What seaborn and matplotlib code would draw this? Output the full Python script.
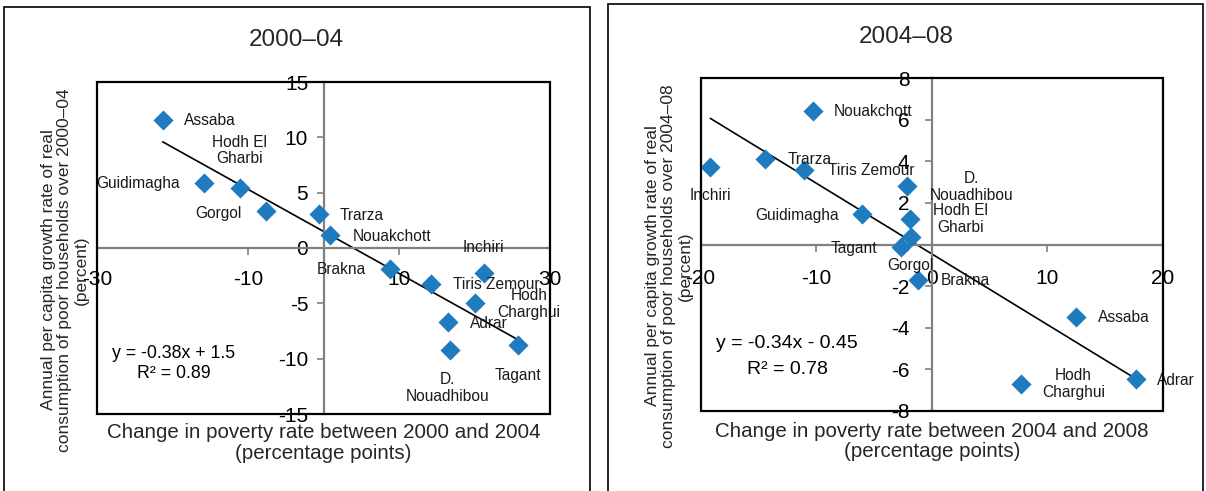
import numpy as np
import pandas as pd
import matplotlib
matplotlib.use("Agg")
import matplotlib.pyplot as plt
from matplotlib.patches import Rectangle
import seaborn as sns

# ---------------- data ----------------
# Panel 2000-04
regions_0004 = ["Assaba", "Hodh El\nGharbi", "Guidimagha", "Gorgol", "Trarza", "Nouakchott",
                "Brakna", "Inchiri", "Tiris Zemour", "Hodh\nCharghui", "Adrar",
                "D.\nNouadhibou", "Tagant"]
pov_change_0004 = [-21.3, -11.1, -15.85, -7.67, -0.6, 0.83, 8.77, 21.3, 14.2, 20.05, 16.5, 16.7, 25.7]
growth_0004 = [11.6, 5.46, 5.88, 3.33, 3.11, 1.16, -1.88, -2.3, -3.27, -4.95, -6.67, -9.2, -8.77]
slope_0004, intercept_0004, r2_0004 = -0.38, 1.5, 0.89

# Panel 2004-08
regions_0408 = ["Nouakchott", "Inchiri", "Trarza", "Tiris Zemour", "D.\nNouadhibou",
                "Hodh El\nGharbi", "Guidimagha", "Gorgol", "Tagant", "Brakna", "Assaba",
                "Hodh\nCharghui", "Adrar"]
pov_change_0408 = [-10.3, -19.15, -14.46, -11.05, -2.1, -1.86, -6.07, -1.8, -2.65, -1.15, 12.46, 7.68, 17.7]
growth_0408 = [6.43, 3.74, 4.11, 3.58, 2.83, 1.23, 1.46, 0.37, -0.1, -1.7, -3.46, -6.69, -6.45]
slope_0408, intercept_0408, r2_0408 = -0.34, -0.45, 0.78

xticks_0004 = [-30, -10, 10, 30]
yticks_0004 = [-15, -10, -5, 0, 5, 10, 15]
xticks_0408 = [-20, -10, 0, 10, 20]
yticks_0408 = [-8, -6, -4, -2, 0, 2, 4, 6, 8]

titles = ["2000\u201304", "2004\u201308"]
xlabels = ["Change in poverty rate between 2000 and 2004\n(percentage points)",
           "Change in poverty rate between 2004 and 2008\n(percentage points)"]
ylabels = ["Annual per capita growth rate of real\nconsumption of poor households over 2000\u201304\n(percent)",
           "Annual per capita growth rate of real\nconsumption of poor households over 2004\u201308\n(percent)"]

# label offsets (pixels) – layout only
offsets_0004 = [(47, -1), (0, 37), (-66, -1), (-47, -2), (43, -2), (62, -1), (-48, -1),
                (-1, 26), (66, 0), (54, -1), (41, -2), (-2, -38), (0, -30)]
offsets_0408 = [(60, -1), (0, -29), (45, -1), (67, -1), (64, -1), (50, 0), (-65, -1),
                (-1, -29), (-47, -2), (47, -1), (48, -1), (53, 0), (39, -2)]

# ---------------- style ----------------
sns.set_theme(style="white")
plt.rcParams["font.family"] = ["Liberation Sans", "DejaVu Sans"]
plt.rcParams["axes.unicode_minus"] = False

BLUE = "#1f7bbf"
GREY = "#808080"
W, H = 1206, 491

fig = plt.figure(figsize=(W / 100, H / 100), dpi=100)

# outer frames
fig.add_artist(Rectangle((4 / W, -0.05), 586 / W, 1 - 7 / H + 0.05, transform=fig.transFigure,
                         fill=False, ec="black", lw=1.2))
fig.add_artist(Rectangle((608 / W, -0.05), 595 / W, 1 - 4 / H + 0.05, transform=fig.transFigure,
                         fill=False, ec="black", lw=1.2))


def px_box(l, r, t, b):
    return [l / W, 1 - b / H, (r - l) / W, (b - t) / H]


panels = [
    dict(box=px_box(97, 550, 82, 414), x=pov_change_0004, y=growth_0004, names=regions_0004,
         offs=offsets_0004, slope=slope_0004, icpt=intercept_0004, r2=r2_0004,
         xlim=(-30, 30), ylim=(-15, 15), xticks=xticks_0004, yticks=yticks_0004,
         eq_pos=(-19.8, -9.5), eq_dy=-1.8, eq_size=12.8, xpad=11, ypad=6,
         title_xy=(296, 40), xl_xy=(323.5, 443), yl_xy=(65, 270)),
    dict(box=px_box(700.5, 1163, 78, 411), x=pov_change_0408, y=growth_0408, names=regions_0408,
         offs=offsets_0408, slope=slope_0408, icpt=intercept_0408, r2=r2_0408,
         xlim=(-20, 20), ylim=(-8, 8), xticks=xticks_0408, yticks=yticks_0408,
         eq_pos=(-12.5, -4.74), eq_dy=-1.28, eq_size=14, xpad=13, ypad=11,
         title_xy=(906, 37), xl_xy=(931.7, 441.5), yl_xy=(669, 266)),
]

for i, p in enumerate(panels):
    ax = fig.add_axes(p["box"])
    df = pd.DataFrame({"x": p["x"], "y": p["y"], "name": p["names"]})

    # trend line over data range
    xs = np.array([df["x"].min(), df["x"].max()])
    ys = p["slope"] * xs + p["icpt"]
    sns.lineplot(x=xs, y=ys, color="black", lw=1.2, ax=ax, zorder=2)

    sns.scatterplot(data=df, x="x", y="y", marker="D", s=105, color=BLUE,
                    edgecolor=BLUE, linewidth=0, ax=ax, zorder=3)

    for (_, row), off in zip(df.iterrows(), p["offs"]):
        ax.annotate(row["name"], (row["x"], row["y"]), xytext=off, textcoords="offset pixels",
                    ha="center", va="center", fontsize=11.2, color="#1a1a1a",
                    multialignment="center", linespacing=1.15, zorder=4)

    ax.set_xlim(*p["xlim"])
    ax.set_ylim(*p["ylim"])
    ax.set_xticks(p["xticks"])
    ax.set_yticks(p["yticks"])
    ax.set_xlabel("")
    ax.set_ylabel("")

    for s in ["left", "bottom"]:
        ax.spines[s].set_position(("data", 0))
        ax.spines[s].set_color(GREY)
        ax.spines[s].set_linewidth(1.6)
    for s in ["top", "right"]:
        ax.spines[s].set_visible(False)
    ax.add_patch(Rectangle((0, 0), 1, 1, transform=ax.transAxes, fill=False,
                           ec="black", lw=1.6, clip_on=False, zorder=5))

    ax.tick_params(axis="x", direction="out", length=5, width=1.2, color=GREY,
                   pad=p["xpad"], labelsize=15, labelcolor="black", bottom=True)
    ax.tick_params(axis="y", direction="out", length=5, width=1.2, color=GREY,
                   pad=p["ypad"], labelsize=15, labelcolor="black", left=True)

    ex, ey = p["eq_pos"]
    sgn = "+" if p["icpt"] >= 0 else "-"
    ax.text(ex, ey, f"y = {p['slope']:.2f}x {sgn} {abs(p['icpt']):g}", ha="center", va="center",
            fontsize=p["eq_size"], color="black")
    ax.text(ex, ey + p["eq_dy"], f"R\u00b2 = {p['r2']:.2f}", ha="center", va="center",
            fontsize=p["eq_size"], color="black")

    tx, ty = p["title_xy"]
    fig.text(tx / W, 1 - ty / H, titles[i], ha="center", va="center", fontsize=17.5)
    lx, ly = p["xl_xy"]
    fig.text(lx / W, 1 - ly / H, xlabels[i], ha="center", va="center", fontsize=14.8,
             linespacing=1.1, multialignment="center")
    yx, yy = p["yl_xy"]
    fig.text(yx / W, 1 - yy / H, ylabels[i], ha="center", va="center", rotation=90,
             fontsize=12.5, linespacing=1.12, multialignment="center")

fig.savefig("out.png", dpi=100)
